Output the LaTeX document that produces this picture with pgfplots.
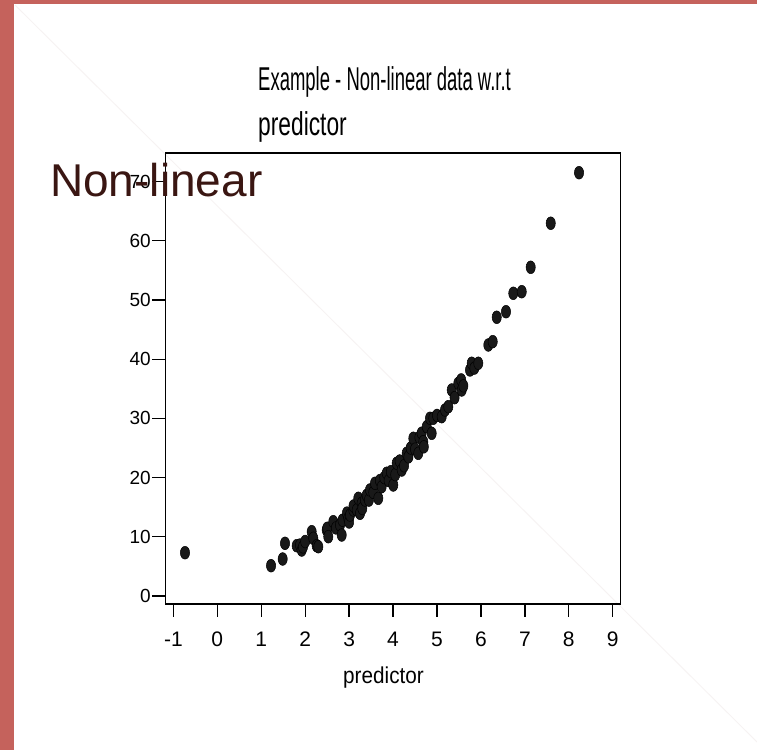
\documentclass[border=0pt]{standalone}
\usepackage{pgfplots}
\pgfplotsset{compat=1.18}
\usepackage{fontspec}
\setmainfont{Liberation Sans}
\definecolor{slidered}{RGB}{197,98,92}
\definecolor{titlebrown}{RGB}{58,22,18}
\definecolor{faint}{RGB}{246,242,242}
\begin{document}
\begin{tikzpicture}[x=1bp,y=1bp]
\useasboundingbox (0,0) rectangle (757,750);
\fill[white] (0,0) rectangle (757,750);
\fill[slidered] (0,0) rectangle (14,750);
\fill[slidered] (0,745.5) rectangle (757,750);
\draw[faint, line width=0.8bp] (15,745) -- (757,8);
\begin{axis}[
  at={(165.3bp,146bp)}, anchor=south west,
  scale only axis, width=455.2bp, height=451bp,
  xmin=-1.183, xmax=9.176, ymin=-1.35, ymax=74.83,
  axis line style={line width=1.6bp, black},
  xtick={-1,0,1,2,3,4,5,6,7,8,9},
  xticklabels={-1,0,1,2,3,4,5,6,7,8,9},
  ytick={0,10,20,30,40,50,60,70},
  yticklabels={0,10,20,30,40,50,60,70},
  tick align=outside, xtick pos=left, ytick pos=left,
  major tick length=13bp,
  tick style={line width=1.3bp, black},
  xticklabel style={font=\fontsize{21bp}{24bp}\selectfont, yshift=-11bp,
    text height=15bp, text depth=0pt},
  yticklabel style={font=\fontsize{19bp}{22bp}\selectfont, xshift=2bp},
]
\addplot[only marks, mark=*, mark size=6.4bp,
  mark options={xscale=0.72, fill=black!90, draw=black, line width=0.5bp}]
  table[row sep=\\] {
x y\\
-0.735 7.31\\
1.223 5.12\\
1.488 6.25\\
1.541 8.90\\
1.807 8.50\\
1.882 8.61\\
1.921 7.77\\
1.95 8.3\\
2.0 9.2\\
2.148 10.86\\
2.185 9.75\\
2.262 8.50\\
2.299 8.33\\
2.490 11.15\\
2.503 11.44\\
2.526 10.02\\
2.640 12.55\\
2.7 11.5\\
2.792 11.99\\
2.831 10.30\\
2.85 12.8\\
2.95 14.0\\
2.981 13.13\\
3.0 12.5\\
3.020 13.68\\
3.095 14.53\\
3.1 15.2\\
3.173 14.53\\
3.209 16.50\\
3.248 13.97\\
3.286 15.66\\
3.3 14.8\\
3.361 16.22\\
3.4 17.0\\
3.45 16.2\\
3.475 17.91\\
3.55 17.5\\
3.589 19.04\\
3.664 16.50\\
3.7 19.5\\
3.741 18.46\\
3.8 20.0\\
3.855 20.73\\
3.9 19.5\\
3.95 21.0\\
4.005 18.75\\
4.05 20.5\\
4.083 22.42\\
4.15 22.8\\
4.197 21.28\\
4.25 22.0\\
4.310 24.10\\
4.35 23.5\\
4.4 25.0\\
4.461 26.64\\
4.5 24.8\\
4.574 24.10\\
4.6 26.8\\
4.65 27.5\\
4.688 26.06\\
4.7 25.2\\
4.766 28.60\\
4.841 30.02\\
4.879 27.48\\
4.916 30.02\\
5.0 30.5\\
5.107 30.29\\
5.182 31.42\\
5.257 31.98\\
5.335 34.80\\
5.4 33.5\\
5.485 35.93\\
5.55 36.5\\
5.562 34.80\\
5.6 35.5\\
5.751 38.18\\
5.790 39.31\\
5.85 38.5\\
5.940 39.31\\
6.168 42.40\\
6.268 42.96\\
6.359 47.08\\
6.570 48.02\\
6.736 51.13\\
6.928 51.40\\
7.132 55.52\\
7.588 62.96\\
8.232 71.50\\
};
\end{axis}
\node[anchor=base west, inner sep=0pt] at (258,659)
  {\scalebox{0.56}[1]{\fontsize{33bp}{36bp}\selectfont Example - Non-linear data w.r.t}};
\node[anchor=base west, inner sep=0pt] at (258,614)
  {\scalebox{0.69}[1]{\fontsize{33bp}{36bp}\selectfont predictor}};
\node[anchor=base, inner sep=0pt] at (383.5,66)
  {\scalebox{0.9}[1]{\fontsize{23bp}{26bp}\selectfont predictor}};
\node[anchor=base west, inner sep=0pt, text=titlebrown] at (50,553)
  {\fontsize{46bp}{50bp}\selectfont Non-linear};
\end{tikzpicture}
\end{document}
